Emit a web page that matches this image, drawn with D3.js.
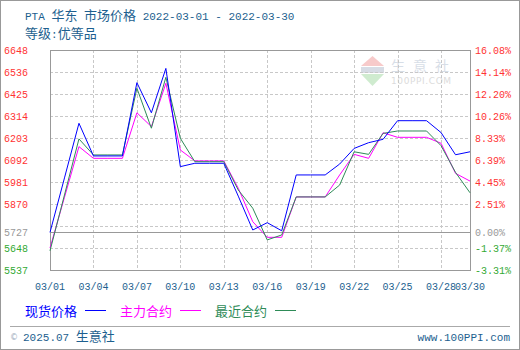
<!DOCTYPE html>
<html>
<head>
<meta charset="utf-8">
<script src="https://cdn.jsdelivr.net/npm/d3@7"></script>
<style>
  body { margin: 0; background: #fff; }
  text { white-space: pre; }
</style>
</head>
<body>
<script>
// series, one value per calendar day 03/01 .. 03/30 (weekends carry the last price)
var spotPrice = [5727, 6002, 6278, 6113, 6113, 6113, 6483, 6331, 6555, 6059,
                 6076, 6076, 6076, 5910, 5739, 5776, 5735, 6017, 6017, 6017,
                 6072, 6151, 6180, 6197, 6291, 6291, 6291, 6231, 6119, 6134];
var mainContract = [5648, 5904, 6160, 6101, 6101, 6101, 6331, 6261, 6480, 6143,
                    6088, 6088, 6088, 5950, 5781, 5702, 5702, 5906, 5906, 5906,
                    6017, 6121, 6101, 6230, 6207, 6207, 6207, 6177, 6025, 5986];
var nearContract = [5634, 5916, 6199, 6118, 6118, 6118, 6455, 6253, 6510, 6202,
                    6084, 6084, 6084, 5941, 5849, 5689, 5714, 5906, 5906, 5906,
                    5966, 6134, 6121, 6227, 6239, 6239, 6239, 6165, 6030, 5927];

var startDate = new Date(2022, 2, 1);
var endDate = new Date(2022, 2, 30);
var days = d3.timeDay.range(startDate, d3.timeDay.offset(endDate, 1));

var xTickLabels = ["03/01", "03/04", "03/07", "03/10", "03/13", "03/16", "03/19", "03/22", "03/25", "03/28", "03/30"];
var leftTicks = [6648, 6536, 6425, 6314, 6203, 6092, 5981, 5870, 5727, 5648, 5537];
var rightTicks = ["16.08%", "14.14%", "12.20%", "10.26%", "8.33%", "6.39%", "4.45%", "2.51%", "0.00%", "-1.37%", "-3.31%"];
var baseValue = 5727;

var seriesNames = ["现货价格", "主力合约", "最近合约"];
var seriesColors = ["#0000ff", "#ff00ff", "#2e8b57"];

var W = 520, H = 350;
var plot = {left: 50, right: 470, top: 50, bottom: 270};
var mono = "Liberation Mono, DejaVu Sans Mono, monospace";
var cjk = "Noto Sans CJK SC, sans-serif";

var svg = d3.select("body").append("svg")
  .attr("width", W)
  .attr("height", H);

// outer frame
svg.append("rect")
  .attr("x", 0.5).attr("y", 0.5)
  .attr("width", W - 1).attr("height", H - 1)
  .attr("fill", "#fff")
  .attr("stroke", "#999");

function parseDay(s) {
  var p = s.split("/");
  return new Date(2022, +p[0] - 1, +p[1]);
}

var x = d3.scaleTime()
  .domain([startDate, endDate])
  .range([plot.left, plot.right]);

var y = d3.scaleLinear()
  .domain([leftTicks[leftTicks.length - 1], leftTicks[0]])
  .range([plot.bottom, plot.top]);

// text with latin and CJK runs in different fonts
function mixedText(g, str, px, py, latinSize, cjkSize, color, anchor) {
  var t = g.append("text")
    .attr("x", px).attr("y", py)
    .attr("fill", color)
    .attr("text-anchor", anchor || "start");
  var runs = str.match(/[\u3000-\u9fff\uff00-\uffef]+|[^\u3000-\u9fff\uff00-\uffef]+/g);
  runs.forEach(function (r) {
    var isCjk = /[\u3000-\u9fff\uff00-\uffef]/.test(r);
    t.append("tspan")
      .attr("font-family", isCjk ? cjk : mono)
      .attr("font-size", isCjk ? cjkSize : latinSize)
      .text(r);
  });
  return t;
}

// title
mixedText(svg, "PTA 华东 市场价格 2022-03-01 - 2022-03-30", 25, 19.5, 11, 13, "#1d5f8f");
mixedText(svg, "等级:优等品", 25, 37.5, 11, 13, "#1d5f8f");

// watermark
var wm = svg.append("g").attr("opacity", 0.55);
wm.append("path")
  .attr("d", "M372.5,56 L384,66 L361,66 Z")
  .attr("fill", "#f2a0a0");
wm.append("rect")
  .attr("x", 361).attr("y", 67).attr("width", 23).attr("height", 6)
  .attr("fill", "#b8c0d0");
wm.append("path")
  .attr("d", "M361,74 L384,74 L372.5,86 Z")
  .attr("fill", "#a8dca8");
wm.append("text")
  .attr("x", 391).attr("y", 71)
  .attr("font-family", cjk).attr("font-size", 14)
  .attr("letter-spacing", 8)
  .attr("fill", "#b8c4d4")
  .text("生意社");
wm.append("text")
  .attr("x", 391).attr("y", 83.5)
  .attr("font-family", "DejaVu Sans, sans-serif").attr("font-size", 9)
  .attr("letter-spacing", 0.6)
  .attr("fill", "#c0c0c0")
  .text("100PPI.COM");

// grid
var grid = svg.append("g")
  .attr("stroke", "#c8c8c8")
  .attr("stroke-dasharray", "3,2")
  .attr("shape-rendering", "crispEdges");

var gridValues = d3.range(1, 10).map(function (i) {
  var d = y.domain();
  return d[0] + i * (d[1] - d[0]) / 10;
});
grid.selectAll(".hgrid")
  .data(gridValues)
  .enter().append("line")
  .attr("x1", plot.left).attr("x2", plot.right)
  .attr("y1", function (d) { return Math.round(y(d)) + 0.5; })
  .attr("y2", function (d) { return Math.round(y(d)) + 0.5; });

var xGridDays = xTickLabels.slice(1, xTickLabels.length - 1).map(parseDay);
grid.selectAll(".vgrid")
  .data(xGridDays)
  .enter().append("line")
  .attr("y1", plot.top).attr("y2", plot.bottom)
  .attr("x1", function (d) { return Math.round(x(d)) + 0.5; })
  .attr("x2", function (d) { return Math.round(x(d)) + 0.5; });

// base line
svg.append("line")
  .attr("x1", plot.left).attr("x2", plot.right)
  .attr("y1", Math.round(y(baseValue)) + 0.5)
  .attr("y2", Math.round(y(baseValue)) + 0.5)
  .attr("stroke", "#999")
  .attr("shape-rendering", "crispEdges");

// plot frame
svg.append("rect")
  .attr("x", plot.left + 0.5).attr("y", plot.top + 0.5)
  .attr("width", plot.right - plot.left).attr("height", plot.bottom - plot.top)
  .attr("fill", "none")
  .attr("stroke", "#999")
  .attr("shape-rendering", "crispEdges");

// y labels
function tickColor(v) {
  if (v === baseValue) return "#999";
  return v > baseValue ? "#ff3333" : "#33aa33";
}

svg.append("g").selectAll("text")
  .data(leftTicks)
  .enter().append("text")
  .attr("x", 28)
  .attr("y", function (d) { return y(d); })
  .attr("dy", "0.35em")
  .attr("text-anchor", "end")
  .attr("font-family", mono).attr("font-size", 10)
  .attr("fill", tickColor)
  .text(function (d) { return d; });

svg.append("g").selectAll("text")
  .data(rightTicks)
  .enter().append("text")
  .attr("x", 475)
  .attr("y", function (d, i) { return y(leftTicks[i]); })
  .attr("dy", "0.35em")
  .attr("font-family", mono).attr("font-size", 10)
  .attr("fill", function (d, i) { return tickColor(leftTicks[i]); })
  .text(function (d) { return d; });

// x labels
svg.append("g").selectAll("text")
  .data(xTickLabels)
  .enter().append("text")
  .attr("x", function (d) { return x(parseDay(d)); })
  .attr("y", 290)
  .attr("text-anchor", "middle")
  .attr("font-family", mono).attr("font-size", 10)
  .attr("fill", "#1d5f8f")
  .text(function (d) { return d; });

// lines
var line = d3.line()
  .x(function (d, i) { return x(days[i]); })
  .y(function (d) { return y(d); });

var seriesData = [spotPrice, mainContract, nearContract];
var drawOrder = [1, 2, 0];
svg.append("g").selectAll("path")
  .data(drawOrder)
  .enter().append("path")
  .attr("d", function (k) { return line(seriesData[k]); })
  .attr("fill", "none")
  .attr("stroke", function (k) { return seriesColors[k]; })
  .attr("stroke-width", 1);

// legend
var legend = svg.append("g");
seriesNames.forEach(function (name, i) {
  var lx = 25 + i * 95;
  legend.append("text")
    .attr("x", lx).attr("y", 315.5)
    .attr("font-family", cjk).attr("font-size", 13)
    .attr("fill", seriesColors[i])
    .text(name);
  legend.append("line")
    .attr("x1", lx + 60).attr("x2", lx + 81)
    .attr("y1", 310.5).attr("y2", 310.5)
    .attr("stroke", seriesColors[i])
    .attr("shape-rendering", "crispEdges");
});

// footer
svg.append("line")
  .attr("x1", 10).attr("x2", 510)
  .attr("y1", 326.5).attr("y2", 326.5)
  .attr("stroke", "#aaa")
  .attr("shape-rendering", "crispEdges");

svg.append("text")
  .attr("x", 10).attr("y", 340)
  .attr("font-family", "DejaVu Sans, sans-serif").attr("font-size", 8)
  .attr("fill", "#9ab")
  .text("©");
mixedText(svg, "2025.07 生意社", 23, 340.5, 11, 13, "#1d5f8f");
mixedText(svg, "www.100PPI.com", 510, 340.5, 11, 13, "#1d5f8f", "end");
</script>
</body>
</html>
